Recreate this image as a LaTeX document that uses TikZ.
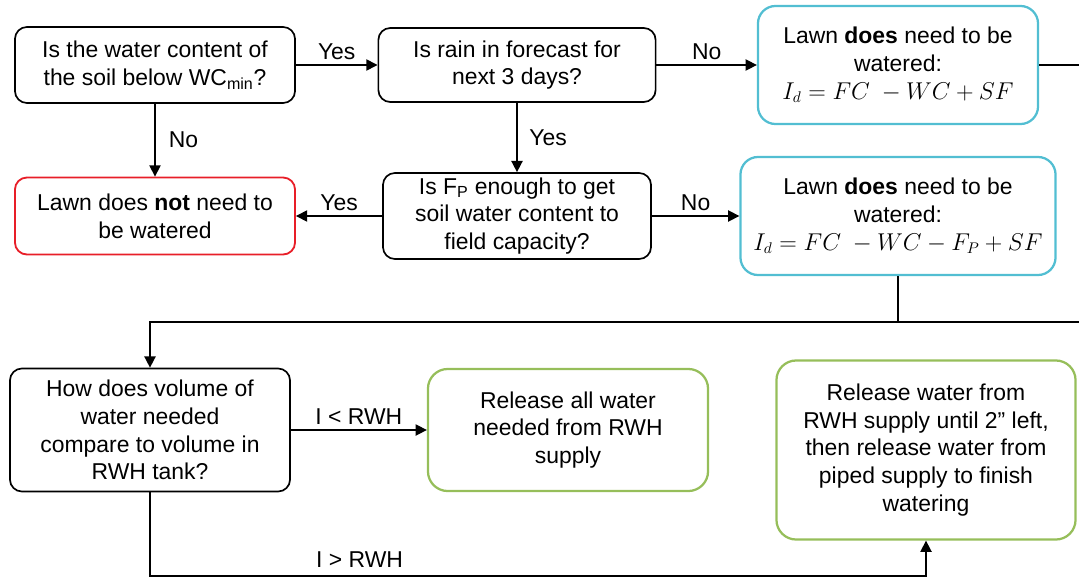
\documentclass[tikz,border=0pt]{standalone}
\usepackage{fontspec}
\setmainfont{Liberation Sans}
\usepackage{tikz}
\usetikzlibrary{arrows.meta}
\definecolor{LawnAqua}{RGB}{82,190,210}
\definecolor{LawnRed}{RGB}{232,30,40}
\definecolor{LawnGreen}{RGB}{150,190,90}
\tikzset{
  q/.style={draw=black,line width=1.2pt,rounded corners=8.5pt,align=center,inner sep=2pt,
    font=\fontsize{16.3}{19.8}\selectfont},
  wet/.style={q,draw=LawnAqua,line width=1.6pt,rounded corners=12.5pt},
  dry/.style={q,draw=LawnRed,line width=1.3pt},
  act/.style={q,draw=LawnGreen,line width=1.6pt,rounded corners=14pt},
  flow/.style={line width=1.1pt,-{Triangle[length=8pt,width=8pt]}},
  wire/.style={line width=1.1pt},
  lbl/.style={font=\fontsize{16.3}{19.8}\selectfont},
}
\begin{document}
\begin{tikzpicture}[x=0.025cm,y=-0.025cm]
  \useasboundingbox (0,0) rectangle (1079,579);
  \node[q,minimum width=7cm,minimum height=1.9cm] (soil) at (155,65)
    {Is the water content of\\the soil below WC\textsubscript{min}?};
  \node[q,minimum width=6.93cm,minimum height=1.85cm] (rain) at (517,65)
    {Is rain in forecast for\\next 3 days?};
  \node[wet,minimum width=7cm,minimum height=2.95cm] (waterA) at (898,65)
    {Lawn \textbf{does} need to be\\watered:\\$I_d = FC\ - WC + SF$};
  \node[dry,minimum width=7cm,minimum height=1.925cm] (nowater) at (155,216)
    {Lawn does \textbf{not} need to\\be watered};
  \node[q,minimum width=6.7cm,minimum height=2.15cm] (fp) at (517,216)
    {Is F\textsubscript{P} enough to get\\soil water content to\\field capacity?};
  \node[wet,minimum width=7.875cm,minimum height=2.95cm] (waterB) at (898,216)
    {Lawn \textbf{does} need to be\\watered:\\$I_d = FC\ - WC - F_P + SF$};
  \node[q,minimum width=7cm,minimum height=3.075cm] (tank) at (150,430)
    {How does volume of\\water needed\\compare to volume in\\RWH tank?};
  \node[act,minimum width=7cm,minimum height=3.05cm] (allrwh) at (568,430)
    {Release all water\\needed from RWH\\supply};
  \node[act,minimum width=7.475cm,minimum height=4.475cm] (mixed) at (926,450)
    {Release water from\\RWH supply until 2” left,\\then release water from\\piped supply to finish\\watering};

  \coordinate (edgeA) at (1079,65);
  \coordinate (edgeB) at (1079,322);
  \coordinate (turnB) at (150,322);
  \coordinate (low) at (150,576);

  \draw[flow] (soil) -- node[lbl,above]{Yes} (rain);
  \draw[flow] (rain) -- node[lbl,above]{No} (waterA);
  \draw[wire] (waterA) -- (edgeA);
  \draw[flow] (soil) -- node[lbl,right,xshift=6pt]{No} (nowater);
  \draw[flow] (rain) -- node[lbl,right,xshift=5pt]{Yes} (fp);
  \draw[flow] (fp) -- node[lbl,above]{Yes} (nowater);
  \draw[flow] (fp) -- node[lbl,above]{No} (waterB);
  \draw[wire] (waterB.south) -- (waterB.south |- edgeB);
  \draw[flow] (edgeB) -- (turnB) -- (tank.north);
  \draw[flow] (tank) -- node[lbl,above]{I < RWH} (allrwh);
  \draw[flow] (tank.south) -- (low) -- node[lbl,pos=0.27,above,yshift=2pt]{I > RWH} (low -| mixed.south) -- (mixed.south);
\end{tikzpicture}
\end{document}
